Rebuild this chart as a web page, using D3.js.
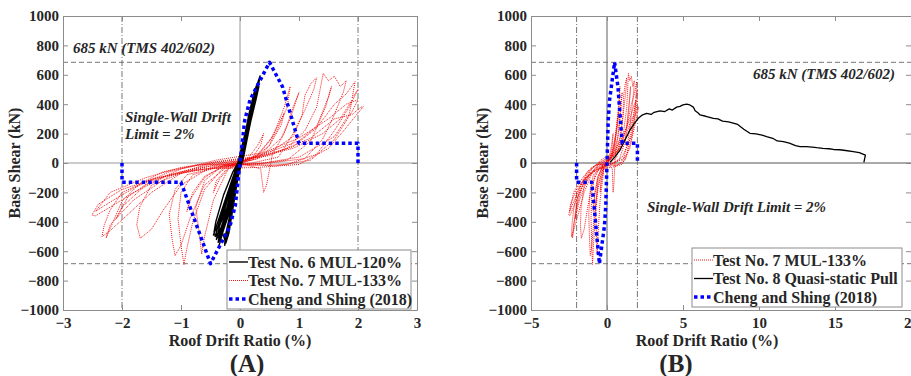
<!DOCTYPE html>
<html>
<head>
<meta charset="utf-8">
<script src="https://cdn.jsdelivr.net/npm/d3@7"></script>
<style>
  body { margin: 0; background: #fff; }
</style>
</head>
<body>
<svg id="chart" width="911" height="376"></svg>
<script>
// tick values
var xTicksA = [-3, -2, -1, 0, 1, 2, 3];
var xTicksB = [-5, 0, 5, 10, 15, 20];
var yTicks = [-1000, -800, -600, -400, -200, 0, 200, 400, 600, 800, 1000];

var tmsLimit = 685;   // kN
var driftLimit = 2;   // %

// Cheng and Shing (2018) backbone, [drift %, shear kN]
var chengShing = [[-2, 0], [-2, -131], [-1, -131], [-0.5, -685], [-0.28, -515], [-0.17, -430], [-0.08, -290],
  [0, 0], [0.08, 290], [0.17, 430], [0.28, 515], [0.5, 685], [0.72, 519], [1, 134], [2, 134], [2, 0]];

// Test No. 6 MUL-120%
var test6 = [
  [0, 0], [0.05, 120], [0.1, 220], [0.15, 300], [0.12, 230], [0.04, 80], [0, -20], [-0.06, -150], [-0.12, -250], [-0.17, -310], [-0.14, -240], [-0.06, -100], [0, 0],
  [0.07, 150], [0.14, 300], [0.2, 400], [0.23, 440], [0.19, 360], [0.1, 180], [0.02, 20], [-0.05, -120], [-0.14, -280], [-0.22, -380], [-0.27, -430], [-0.23, -370], [-0.13, -200], [-0.03, -30],
  [0.06, 140], [0.15, 330], [0.24, 480], [0.29, 540], [0.26, 470], [0.15, 260], [0.05, 60], [-0.05, -110], [-0.15, -290], [-0.26, -420], [-0.33, -490], [-0.3, -430], [-0.18, -240], [-0.05, -50],
  [0.05, 120], [0.16, 340], [0.26, 500], [0.34, 592], [0.31, 520], [0.2, 320], [0.08, 90], [-0.04, -100], [-0.18, -320], [-0.3, -450], [-0.4, -520], [-0.36, -450], [-0.22, -260], [-0.08, -70],
  [0.04, 100], [0.15, 320], [0.24, 460], [0.3, 510], [0.27, 450], [0.17, 280], [0.06, 60], [-0.06, -140], [-0.2, -360], [-0.3, -480], [-0.37, -540], [-0.34, -470], [-0.2, -270], [-0.06, -60],
  [0.06, 150], [0.17, 360], [0.27, 500], [0.32, 550], [0.29, 480], [0.18, 300], [0.05, 50], [-0.08, -170], [-0.18, -370], [-0.25, -500], [-0.26, -560], [-0.22, -490], [-0.12, -280], [-0.02, -40],
  [0.08, 170], [0.2, 400], [0.28, 500], [0.3, 530], [0.26, 450], [0.14, 230], [0.03, 30], [-0.1, -200], [-0.25, -390], [-0.38, -480], [-0.45, -490], [-0.4, -430], [-0.25, -250], [-0.08, -50], [0, 0],
  [0.1, 200], [0.22, 420], [0.29, 520], [0.33, 570], [0.3, 500], [0.18, 280], [0.06, 40], [-0.1, -190], [-0.22, -380], [-0.33, -510], [-0.36, -520], [-0.3, -420], [-0.15, -200], [0, 0],
  [0.12, 250], [0.24, 450], [0.31, 545], [0.28, 470], [0.16, 240], [0.02, 10], [-0.12, -230], [-0.27, -440], [-0.42, -500], [-0.38, -440], [-0.24, -260], [-0.06, -40],
  [0.09, 210], [0.19, 390], [0.27, 490], [0.32, 520], [0.27, 430], [0.12, 180], [-0.02, -40], [-0.16, -300], [-0.29, -470], [-0.35, -555], [-0.3, -480], [-0.16, -260], [0, 0],
  [0.03, 80], [0.12, 260], [0.22, 430], [0.3, 525], [0.25, 430], [0.1, 170], [-0.04, -60], [-0.2, -280], [-0.34, -420], [-0.44, -470], [-0.41, -400], [-0.28, -220], [-0.12, -60], [0.02, 40],
  [0.13, 280], [0.25, 470], [0.28, 505], [0.22, 380], [0.08, 120], [-0.08, -130], [-0.22, -330], [-0.3, -470], [-0.24, -545], [-0.19, -480], [-0.12, -310], [-0.03, -90], [0, 0]
];

// Test No. 7 MUL-133%
var test7 = [
  [0, 0], [0.15, 40], [0.3, 120], [0.4, 200], [0.35, 120], [0.2, 30], [0, -10], [-0.2, -40], [-0.35, -110], [-0.45, -200], [-0.4, -120], [-0.2, -30], [0, 0],
  [0.3, 50], [0.5, 150], [0.65, 260], [0.75, 340], [0.7, 260], [0.5, 120], [0.3, 30], [0, 0], [-0.3, -30], [-0.6, -90], [-0.8, -200], [-0.9, -330], [-0.85, -250], [-0.6, -100], [-0.3, -20], [0, 10],
  [0.4, 60], [0.7, 170], [0.85, 300], [0.95, 420], [1.0, 480], [0.9, 380], [0.75, 200], [0.55, 60], [0.45, -150], [0.4, -200], [0.35, -40], [0, 0], [-0.4, -30], [-0.8, -80], [-1.0, -200], [-1.05, -380], [-1.0, -560], [-0.95, -690], [-0.9, -580], [-0.8, -400], [-0.6, -180], [-0.3, -40], [0.1, 20],
  [0.5, 70], [0.9, 180], [1.05, 320], [1.1, 460], [1.2, 540], [1.3, 580], [1.25, 500], [1.1, 360], [0.9, 200], [0.65, 40], [0.2, 0], [-0.4, -30], [-0.9, -80], [-1.1, -180], [-1.2, -350], [-1.15, -520], [-1.1, -630], [-1.0, -560], [-0.85, -380], [-0.6, -150], [-0.2, -20], [0.3, 30],
  [0.8, 100], [1.1, 220], [1.3, 380], [1.41, 610], [1.5, 560], [1.6, 590], [1.7, 520], [1.8, 560], [1.75, 480], [1.6, 330], [1.4, 160], [1.1, 30], [0.5, 0], [-0.3, -20], [-1.0, -70], [-1.5, -150], [-1.7, -300], [-1.75, -420], [-1.69, -512], [-1.5, -450], [-1.3, -320], [-1.0, -150], [-0.5, -30], [0.2, 30],
  [0.9, 110], [1.3, 240], [1.6, 400], [1.8, 470], [1.95, 553], [1.9, 440], [2.0, 500], [1.85, 380], [1.6, 220], [1.3, 60], [0.8, -10], [0, -20], [-0.8, -50], [-1.5, -110], [-2.0, -200], [-2.2, -320], [-2.3, -420], [-2.34, -501], [-2.2, -460], [-1.9, -350], [-1.5, -200], [-1.0, -70], [-0.3, 0], [0.5, 50],
  [1.2, 170], [1.6, 300], [1.9, 330], [2.05, 380], [2.09, 383], [2.0, 340], [1.8, 240], [1.5, 100], [1.0, -10], [0.3, -30], [-0.6, -40], [-1.4, -100], [-2.0, -180], [-2.4, -280], [-2.51, -354], [-2.45, -360], [-2.2, -300], [-1.8, -200], [-1.2, -80], [-0.5, -10], [0, 0],
  [-0.5, -20], [-1.0, -60], [-1.5, -120], [-1.9, -230], [-2.1, -380], [-2.0, -300], [-1.6, -150], [-1.0, -40], [-0.4, 10], [0.2, 40], [0.6, 90], [1.0, 150], [1.3, 250], [1.5, 450], [1.55, 520], [1.45, 380], [1.2, 150], [0.8, 20], [0.2, -10],
  [-0.7, -10], [-1.3, -60], [-1.7, -140], [-2.0, -260], [-2.27, -510], [-2.2, -420], [-1.8, -250], [-1.2, -90], [-0.5, 0], [0.3, 40], [0.9, 100], [1.4, 200], [1.7, 300], [1.9, 430], [1.85, 330], [1.6, 180], [1.0, 40], [0.4, 0],
  [-0.3, -20], [-0.6, -120], [-0.75, -300], [-0.7, -450], [-0.65, -620], [-0.6, -500], [-0.45, -250], [-0.2, -40], [0.3, 60], [0.6, 200], [0.8, 380], [0.85, 520], [0.75, 380], [0.5, 120], [0.2, 20], [-0.4, 0],
  [-1.0, -30], [-1.6, -100], [-2.2, -200], [-2.45, -330], [-2.3, -290], [-1.8, -170], [-1.2, -60], [-0.4, 20], [0.4, 70], [1.0, 170], [1.5, 300], [1.8, 400], [2.0, 430], [1.9, 350], [1.6, 160], [1.2, 20], [0.6, -20], [0, 0]
];

// Test No. 8 Quasi-static Pull
var test8 = [[0.2, 5], [0.5, 40], [0.86, 88], [1.2, 160], [1.51, 224], [1.8, 270], [2.06, 304], [2.3, 325], [2.61, 338],
  [2.9, 330], [3.1, 345], [3.49, 355], [3.8, 350], [4.1, 368], [4.3, 360], [4.58, 380], [4.8, 385], [5.0, 395], [5.24, 400],
  [5.45, 395], [5.68, 380], [5.8, 355], [6.0, 340], [6.12, 327], [6.5, 318], [7.0, 304], [7.3, 300], [7.6, 285], [8.0, 280],
  [8.3, 272], [8.6, 262], [9.0, 230], [9.4, 202], [9.8, 198], [10.2, 190], [10.5, 180], [10.9, 168], [11.2, 150], [11.6, 145],
  [12.0, 135], [12.4, 118], [12.7, 111], [13.1, 112], [13.5, 108], [13.8, 104], [14.2, 100], [14.6, 97], [14.9, 92], [15.3, 90],
  [15.7, 85], [16.2, 77], [16.6, 70], [17.0, 54], [16.95, 30], [16.9, 5]];

var legendA = ["Test No. 6 MUL-120%", "Test No. 7 MUL-133%", "Cheng and Shing (2018)"];
var legendB = ["Test No. 7 MUL-133%", "Test No. 8 Quasi-static Pull", "Cheng and Shing (2018)"];

var styles = {
  test6: { stroke: "#000", width: 1.4, dash: null },
  test7: { stroke: "#f00000", width: 0.9, dash: "1,1" },
  test8: { stroke: "#000", width: 1.3, dash: null },
  cheng: { stroke: "#0000ff", width: 3.5, dash: "3.5,3" }
};

var serif = "'Liberation Serif', 'Times New Roman', 'DejaVu Serif', serif";
var svg = d3.select("#chart");
var gray = "#8c8c8c";

function drawPanel(p) {
  var x = d3.scaleLinear().domain(p.xDomain).range([p.left, p.right]);
  var y = d3.scaleLinear().domain([-1000, 1000]).range([p.bottom, p.top]);
  var g = svg.append("g").attr("id", p.id);

  var clipId = p.id + "-clip";
  g.append("clipPath").attr("id", clipId).append("rect")
    .attr("x", p.left).attr("y", p.top)
    .attr("width", p.right - p.left).attr("height", p.bottom - p.top);

  var plot = g.append("g").attr("clip-path", "url(#" + clipId + ")");

  // reference lines
  plot.append("line").attr("x1", x(0)).attr("x2", x(0)).attr("y1", p.top).attr("y2", p.bottom)
    .attr("stroke", gray).attr("stroke-width", p.zeroWidth);
  plot.append("line").attr("x1", p.left).attr("x2", p.right).attr("y1", y(0)).attr("y2", y(0))
    .attr("stroke", gray).attr("stroke-width", p.zeroWidth);
  [-tmsLimit, tmsLimit].forEach(function (v) {
    plot.append("line").attr("x1", p.left).attr("x2", p.right).attr("y1", y(v)).attr("y2", y(v))
      .attr("stroke", "#666").attr("stroke-width", 0.9).attr("stroke-dasharray", "5,3");
  });
  [-driftLimit, driftLimit].forEach(function (v) {
    plot.append("line").attr("x1", x(v)).attr("x2", x(v)).attr("y1", p.top).attr("y2", p.bottom)
      .attr("stroke", "#666").attr("stroke-width", 0.9).attr("stroke-dasharray", "6,2,1,2");
  });

  var line = d3.line().x(function (d) { return x(d[0]); }).y(function (d) { return y(d[1]); });

  p.series.forEach(function (s) {
    plot.append("path").datum(s.data)
      .attr("d", line)
      .attr("fill", "none")
      .attr("stroke", s.style.stroke)
      .attr("stroke-width", s.style.width)
      .attr("stroke-dasharray", s.style.dash)
      .attr("stroke-linejoin", "round");
  });

  // axes with inward ticks
  var fmt = d3.format("d");
  function styleAxis(a) {
    a.attr("font-family", null).attr("font-size", null);
    a.select(".domain").attr("stroke", gray);
    a.selectAll(".tick line").attr("stroke", gray);
    a.selectAll("text").attr("font-size", 15).attr("fill", "#262626");
  }
  g.append("g").attr("transform", "translate(0," + p.bottom + ")")
    .call(d3.axisBottom(x).tickValues(p.xTicks).tickFormat(fmt).tickSize(-5).tickSizeOuter(0).tickPadding(7))
    .call(styleAxis);
  g.append("g").attr("transform", "translate(0," + p.top + ")")
    .call(d3.axisTop(x).tickValues(p.xTicks).tickSize(-5).tickSizeOuter(0).tickFormat(""))
    .call(styleAxis);
  g.append("g").attr("transform", "translate(" + p.left + ",0)")
    .call(d3.axisLeft(y).tickValues(yTicks).tickFormat(fmt).tickSize(-5).tickSizeOuter(0).tickPadding(4))
    .call(styleAxis);
  g.append("g").attr("transform", "translate(" + p.right + ",0)")
    .call(d3.axisRight(y).tickValues(yTicks).tickSize(-5).tickSizeOuter(0).tickFormat(""))
    .call(styleAxis);

  // axis titles
  g.append("text").attr("x", (p.left + p.right) / 2 + p.xTitleShift).attr("y", 346)
    .attr("text-anchor", "middle").attr("font-size", 16).text("Roof Drift Ratio (%)");
  g.append("text").attr("transform", "translate(" + (p.left - 43) + "," + ((p.top + p.bottom) / 2) + ") rotate(-90)")
    .attr("text-anchor", "middle").attr("font-size", 16).text("Base Shear (kN)");

  // panel label
  g.append("text").attr("x", p.labelX).attr("y", 372).attr("text-anchor", "middle")
    .attr("font-size", 25).text(p.label);

  // annotations
  p.notes.forEach(function (n) {
    g.append("text").attr("x", n.x).attr("y", n.y).attr("text-anchor", n.anchor)
      .attr("font-size", 15).attr("font-style", "italic").text(n.text);
  });

  // legend
  var lg = g.append("g");
  lg.append("rect").attr("x", p.legend.x).attr("y", p.legend.y)
    .attr("width", p.legend.w).attr("height", p.legend.h)
    .attr("fill", "#fff").attr("stroke", gray).attr("stroke-width", 1);
  p.legend.items.forEach(function (it, i) {
    var yy = p.legend.y + 12 + i * 18.5;
    lg.append("line").attr("x1", p.legend.x + 2).attr("x2", p.legend.x + 21)
      .attr("y1", yy).attr("y2", yy)
      .attr("stroke", it.style.stroke).attr("stroke-width", it.style.width)
      .attr("stroke-dasharray", it.style.dash);
    lg.append("text").attr("x", p.legend.x + 21).attr("y", yy + 5.5)
      .attr("font-size", 16).text(it.text);
  });
}

drawPanel({
  id: "panelA", xDomain: [-3, 3], xTicks: xTicksA,
  left: 63, right: 417, top: 16, bottom: 310, zeroWidth: 0.9, xTitleShift: 0,
  label: "(A)", labelX: 247,
  series: [
    { data: test7, style: styles.test7 },
    { data: test6, style: styles.test6 },
    { data: chengShing, style: styles.cheng }
  ],
  notes: [
    { x: 73, y: 53, anchor: "start", text: "685 kN (TMS 402/602)" },
    { x: 125, y: 122, anchor: "start", text: "Single-Wall Drift" },
    { x: 125, y: 139, anchor: "start", text: "Limit = 2%" }
  ],
  legend: { x: 227, y: 250, w: 184, h: 59, items: [
    { text: legendA[0], style: styles.test6 },
    { text: legendA[1], style: styles.test7 },
    { text: legendA[2], style: styles.cheng }
  ] }
});

drawPanel({
  id: "panelB", xDomain: [-5, 20], xTicks: xTicksB,
  left: 531, right: 911, top: 16, bottom: 310, zeroWidth: 1.4, xTitleShift: -14,
  label: "(B)", labelX: 676,
  series: [
    { data: test7, style: styles.test7 },
    { data: test8, style: styles.test8 },
    { data: chengShing, style: styles.cheng }
  ],
  notes: [
    { x: 895, y: 79, anchor: "end", text: "685 kN (TMS 402/602)" },
    { x: 647, y: 212, anchor: "start", text: "Single-Wall Drift Limit = 2%" }
  ],
  legend: { x: 692, y: 248, w: 210, h: 59, items: [
    { text: legendB[0], style: styles.test7 },
    { text: legendB[1], style: styles.test8 },
    { text: legendB[2], style: styles.cheng }
  ] }
});

// serif bold type everywhere, as in the original figure
svg.selectAll("text")
  .style("font-family", serif)
  .style("font-weight", "bold")
  .style("fill", "#262626");
</script>
</body>
</html>
